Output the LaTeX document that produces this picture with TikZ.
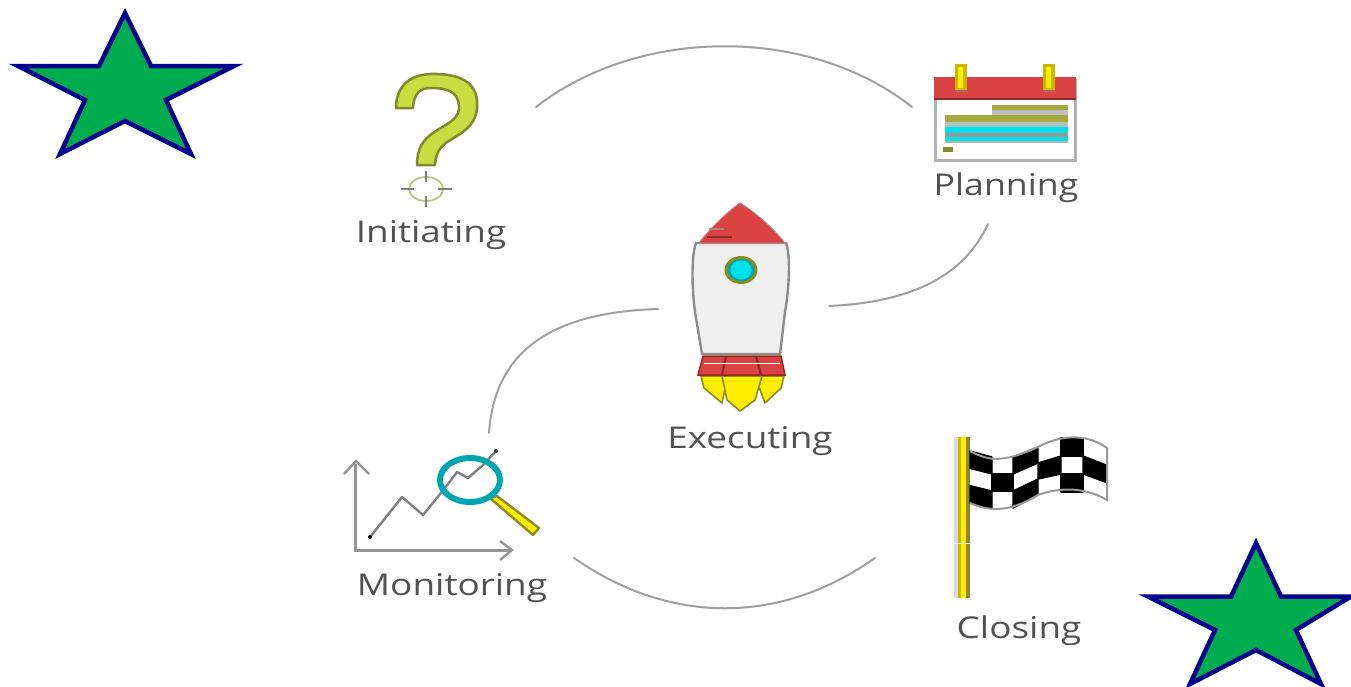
\documentclass[tikz,border=0pt]{standalone}
\usepackage{fontspec}
\setmainfont{Open Sans}
\definecolor{stargreen}{HTML}{00AD4E}
\definecolor{starblue}{HTML}{00008F}
\definecolor{arcgray}{HTML}{A0A0A0}
\definecolor{qlime}{HTML}{C6DE42}
\definecolor{qedge}{HTML}{7F8A2A}
\definecolor{rred}{HTML}{DB4242}
\definecolor{rdark}{HTML}{8E2A2A}
\definecolor{ryellow}{HTML}{FFEE00}
\definecolor{yedge}{HTML}{8F8A20}
\definecolor{ymid}{HTML}{C8B800}
\definecolor{bodyg}{HTML}{EFEFEF}
\definecolor{cyanw}{HTML}{00E0E8}
\definecolor{tealw}{HTML}{00A5B0}
\definecolor{olivebar}{HTML}{A3AB40}
\newcommand{\lbltext}[1]{\scalebox{1.23}[1]{#1}}
\tikzset{
  x=1pt,y=-1pt,
  arc/.style={draw=arcgray,line width=2pt,line cap=round},
  lbl/.style={text=black!68,font=\fontsize{30}{34}\selectfont,inner sep=0pt},
  starshape/.style={fill=stargreen,draw=starblue,line width=4.5pt,line join=miter,miter limit=10},
  axis/.style={draw=black!42,line width=3pt},
}
\begin{document}
\begin{tikzpicture}
\useasboundingbox (0,0) rectangle (1351,686);
\begin{scope}
\clip (0,0) rectangle (1351,686);
\draw[starshape] (125,13)--(151,66)--(234,66)--(166,100)--(191,154)--(125,121)--(60,154)--(85,100)--(18,66)--(99,66)--cycle;
\draw[starshape] (1256,543)--(1281,596.5)--(1351,596.5)--(1296,630)--(1321,684)--(1256,650)--(1190,684)--(1215,630)--(1148,596.5)--(1231,596.5)--cycle;
\end{scope}

% connector ends
\coordinate (c1a) at (536,107); \coordinate (c1b) at (912,107);
\coordinate (c2a) at (988,224); \coordinate (c2b) at (829,306);
\coordinate (c3a) at (658,309); \coordinate (c3b) at (489,433);
\coordinate (c4a) at (875,558); \coordinate (c4b) at (574,558);
\draw[arc] (c1a) .. controls (640,26) and (810,26) .. (c1b);
\draw[arc] (c2a) .. controls (960,285) and (895,303) .. (c2b);
\draw[arc] (c3a) .. controls (560,312) and (495,345) .. (c3b);
\draw[arc] (c4a) .. controls (780,625) and (670,625) .. (c4b);

% Initiating
\draw[fill=qlime,draw=qedge,line width=2.5pt,line join=round]
  (396,108) .. controls (396,88) and (408,75) .. (430,74)
  .. controls (464,73) and (479,85) .. (477,108)
  .. controls (476,125) and (462,133) .. (452,139)
  .. controls (440,146) and (436,152) .. (435,165)
  -- (417,165) .. controls (417,148) and (423,139) .. (436,131)
  .. controls (450,122) and (460,118) .. (459,106)
  .. controls (458,92) and (448,88) .. (431,88)
  .. controls (420,88) and (414,93) .. (413,108) -- cycle;
\draw[draw=qlime!70!black!60,line width=1.8pt] (426,189) ellipse (17 and 12);
\draw[draw=black!50,line width=2pt] (426,171)--(426,182) (426,196)--(426,207) (401,189)--(414,189) (438,189)--(452,189);
\node[lbl] (init) at (431,235) {\lbltext{Initiating}};

% Planning
\draw[fill=white,draw=black!30,line width=3pt] (935,80) rectangle (1075,160);
\fill[rred] (934,77) rectangle (1076,99);
\draw[rdark,line width=1.5pt] (934,99)--(1076,99);
\foreach \xx in {961,1049}{
  \fill[rdark!70] (\xx-6,82) rectangle (\xx+6,92);
  \fill[ymid] (\xx-6,64) rectangle (\xx+6,90);
  \fill[ryellow] (\xx-3,67) rectangle (\xx+2,88);
}
\fill[olivebar] (992,105) rectangle (1068,110);
\fill[black!25] (992,110) rectangle (1068,115);
\fill[olivebar] (945,115) rectangle (1068,122);
\fill[black!25] (945,122) rectangle (1068,125);
\fill[tealw!70!black!40] (945,125) rectangle (1068,127);
\fill[cyanw] (945,127) rectangle (1068,133);
\fill[black!40] (945,133) rectangle (1068,137);
\fill[cyanw] (945,137) rectangle (1068,141);
\fill[black!30] (945,141) rectangle (1068,143);
\fill[olivebar!80!black] (943,147) rectangle (953,152);
\node[lbl] (plan) at (1006,188) {\scalebox{1.19}[1]{Planning}};

% Executing
\draw[fill=bodyg,draw=black!45,line width=2.4pt,line join=round]
  (696,243) .. controls (691,256) and (692,290) .. (695,312) -- (702,354)
  -- (780,354) -- (785,312) .. controls (789,290) and (791,256) .. (786,243) -- cycle;
\fill[rred,draw=rdark!60,line width=1pt] (699,243) .. controls (712,226) and (730,210) .. (740,203)
  .. controls (755,212) and (773,228) .. (785,243) -- cycle;
\draw[rdark,line width=1.5pt] (707,237)--(732,237);
\draw[rdark!60,line width=1.5pt] (709,229)--(724,229);
\fill[yedge] (741,270) ellipse (16.5 and 14);
\fill[tealw] (741,270) ellipse (13.5 and 11);
\fill[cyanw] (741,270) ellipse (10.5 and 9.5);
\draw[fill=ryellow,draw=yedge,line width=1.6pt,line join=round] (701,376)--(704,388)--(722,403)--(728,376)--cycle;
\draw[fill=ryellow,draw=yedge,line width=1.6pt,line join=round] (784,376)--(781,388)--(765,403)--(755,376)--cycle;
\draw[fill=ryellow,draw=yedge,line width=1.6pt,line join=round] (722,376)--(727,400)--(740,411)--(755,400)--(762,376)--cycle;
\fill[rred,draw=rdark,line width=1.5pt] (703,356)--(781,356)--(785,375)--(698,375)--cycle;
\draw[rdark,line width=2.2pt] (726,356)--(722,375) (756,356)--(761,375);
\draw[white,line width=.6pt] (704,363)--(780,363);
\node[lbl] (exec) at (750,441) {\lbltext{Executing}};

% Monitoring
\draw[axis] (355,464)--(355,550)--(510,550);
\draw[axis,line width=2.4pt] (344,474)--(356,461)--(369,474);
\draw[axis,line width=2.4pt] (500,541)--(512,550)--(500,560);
\draw[draw=black!50,line width=2.4pt,line join=round] (370,537)--(402,497)--(423,515)--(445,488)--(457,472)--(468,478)--(483,465)--(495,452);
\fill[black] (370,537) circle (2);
\fill[black!80] (496,451) circle (2);
\draw[fill=ryellow,draw=yedge,line width=2.4pt,line join=round] (490,498)--(497,496)--(539,528)--(533,535)--cycle;
\draw[draw=tealw,line width=6pt] (470,480) ellipse (30 and 22);
\node[lbl] (mon) at (452,588) {\lbltext{Monitoring}};

% Closing
\fill[blue!20!black!15] (954,437) rectangle (958,598);
\fill[ryellow] (958,437) rectangle (966,598);
\fill[yedge] (966,437) rectangle (970,598);
\fill[ymid] (958,437) rectangle (961,598);
\fill[white] (954,543) rectangle (970,544);
\fill[white] (970,451) .. controls (990,462) and (1005,462) .. (1038,447)
  .. controls (1058,436) and (1085,432) .. (1107,448) -- (1107,500)
  .. controls (1085,487) and (1060,487) .. (1038,495)
  .. controls (1010,512) and (990,512) .. (970,503) -- cycle;
\foreach \xa/\xb/\ya/\yb/\za/\zb in {970/992/451/457/503/508,1013/1038/457/447/508/495,1061/1083/438/438/492/492}{
  \filldraw[black,line width=1.4pt,line join=round] (\xa,\ya) -- (\xb,\yb) -- ({\xb},{\yb+(\zb-\yb)/3}) -- ({\xa},{\ya+(\za-\ya)/3}) -- cycle;
  \filldraw[black,line width=1.4pt,line join=round] ({\xa},{\ya+(\za-\ya)*2/3}) -- ({\xb},{\yb+(\zb-\yb)*2/3}) -- (\xb,\zb) -- (\xa,\za) -- cycle;
}
\foreach \xa/\xb/\ya/\yb/\za/\zb in {992/1013/457/457/508/508,1038/1061/447/438/495/492,1083/1107/438/448/492/500}{
  \filldraw[black,line width=1.4pt,line join=round] ({\xa},{\ya+(\za-\ya)/3}) -- ({\xb},{\yb+(\zb-\yb)/3}) -- ({\xb},{\yb+(\zb-\yb)*2/3}) -- ({\xa},{\ya+(\za-\ya)*2/3}) -- cycle;
}
\draw[black!40,line width=2pt] (970,451) .. controls (990,462) and (1005,462) .. (1038,447)
  .. controls (1058,436) and (1085,432) .. (1107,448) -- (1107,500)
  .. controls (1085,487) and (1060,487) .. (1038,495)
  .. controls (1010,512) and (990,512) .. (970,503);
\node[lbl] (clos) at (1019,631) {\lbltext{Closing}};
\end{tikzpicture}
\end{document}
